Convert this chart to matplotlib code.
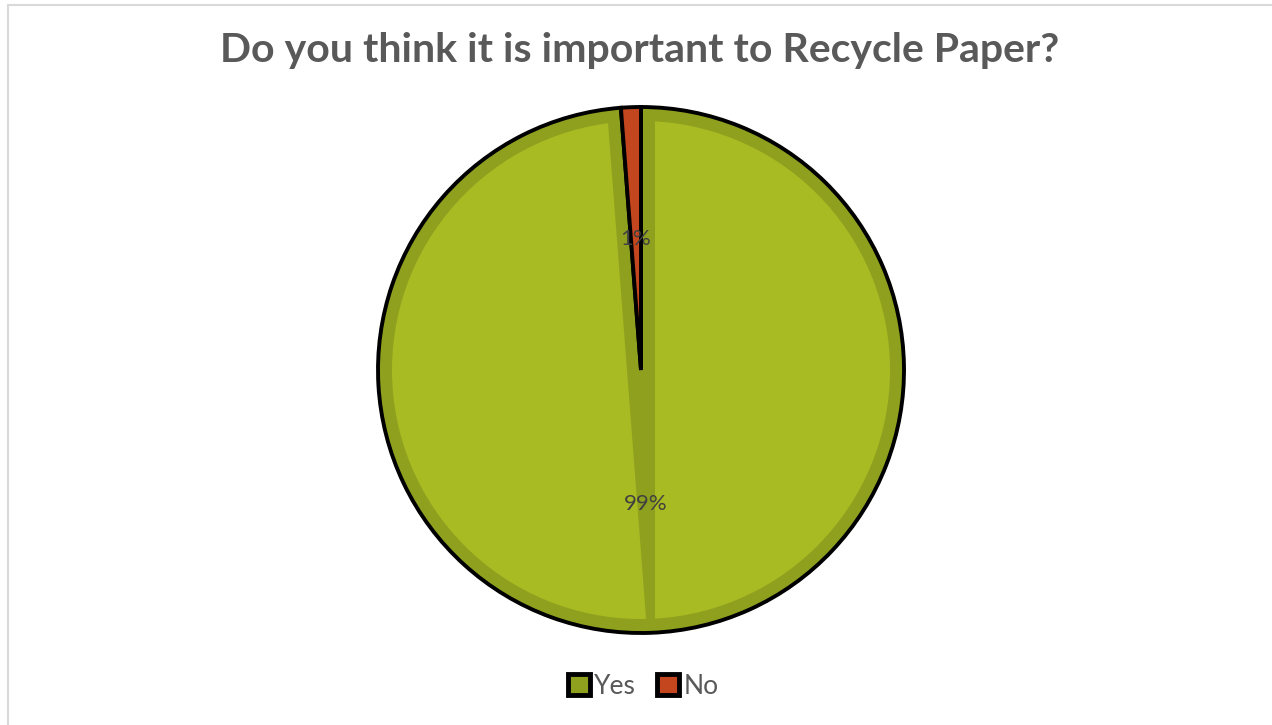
#pie chart: do you think it is important to recycle paper

import numpy as np
import matplotlib
matplotlib.use('Agg')
from matplotlib import pyplot as plt
from matplotlib.patches import Circle, Polygon, Rectangle

#data
labels = ['Yes', 'No']
values = [81, 1]
pct_labels = ['99%', '1%']

#colours
dark_green = '#8fa01f'
light_green = '#a9bb23'
orange = '#c4461e'
text_grey = '#595959'

plt.rcParams['font.family'] = ['Lato', 'DejaVu Sans']

W, H = 1272, 725
fig = plt.figure(figsize=(W / 100, H / 100), dpi=100)
ax = fig.add_axes([0, 0, 1, 1])

cx, cy, R = 641, 355, 263  # pixel space, y from bottom
bevel = 14

wedges, texts, autotexts = ax.pie(
    values,
    colors=[dark_green, orange],
    startangle=90,
    counterclock=False,
    center=(cx, cy),
    radius=R,
    autopct='%1.0f%%',
    pctdistance=0.5,
    wedgeprops=dict(edgecolor='black', linewidth=2.8),
    textprops=dict(color='#404040', fontsize=16),
)
for t, s in zip(autotexts, pct_labels):
    t.set_text(s)
    t.set_zorder(10)
autotexts[0].set_y(autotexts[0].get_position()[1] - 3)

ax.set_xlim(0, W)
ax.set_ylim(0, H)
ax.set_aspect('auto')
ax.axis('off')

#bevel: lighter inner part of the Yes slice, split along the No slice edges
no_w = wedges[1]
def half_plane(angle_deg, side):
    a = np.deg2rad(angle_deg)
    t = np.array([np.cos(a), np.sin(a)])
    n = np.array([np.cos(a + side * np.pi / 2), np.sin(a + side * np.pi / 2)])
    base = np.array([cx, cy]) + n * bevel
    L = 3000
    pts = [base + t * L, base - t * L, base - t * L + n * L, base + t * L + n * L]
    return Polygon(pts, closed=True, transform=ax.transData)

for ang, side in [(no_w.theta1, -1), (no_w.theta2, 1)]:
    c = Circle((cx, cy), R - bevel, facecolor=light_green, edgecolor='none', zorder=3)
    ax.add_patch(c)
    c.set_clip_path(half_plane(ang, side))

#chart border
ax.add_patch(Rectangle((8, -10), W, H - 4 + 10 - 0.5, fill=False, edgecolor='#d9d9d9', linewidth=1.5))

ax.text(640, H - 50, 'Do you think it is important to Recycle Paper?', ha='center', va='center',
        fontsize=29.5, fontweight='bold', color=text_grey)

leg = ax.legend(wedges, labels, loc='center', bbox_to_anchor=(643, H - 686),
                bbox_transform=ax.transData, ncol=2, frameon=False, fontsize=19,
                handlelength=0.85, handleheight=0.85, handletextpad=0.15, columnspacing=0.8)
for t in leg.get_texts():
    t.set_color(text_grey)
for h in leg.legend_handles:
    h.set_linewidth(3.5)

plt.savefig('out.png', dpi=100)
